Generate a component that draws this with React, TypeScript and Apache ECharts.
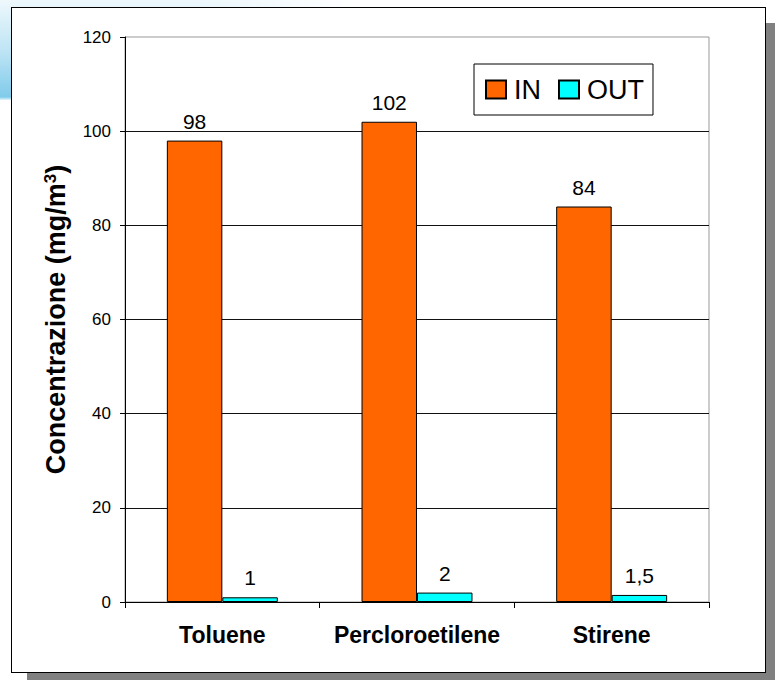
import React, { useEffect, useRef } from "react";
import * as echarts from "echarts";

const categories = ["Toluene", "Percloroetilene", "Stirene"];
const seriesNames = ["IN", "OUT"];
const inValues = [98, 102, 84];
const outValues = [1, 2, 1.5];
const yMin = 0;
const yMax = 120;
const yInterval = 20;

const FONT = "'Liberation Sans', Arial, Helvetica, sans-serif";

export default function App() {
  const ref = useRef<HTMLDivElement>(null);

  useEffect(() => {
    if (!ref.current) return;
    const chart = echarts.init(ref.current, undefined, { renderer: "svg" });
    const labelFmt = (p: any) => String(p.value).replace(".", ",");
    chart.setOption({
      animation: false,
      backgroundColor: "transparent",
      textStyle: { fontFamily: FONT, color: "#000" },
      grid: {
        left: 125,
        right: 66,
        top: 37,
        bottom: 78,
        show: true,
        borderColor: "#999",
        borderWidth: 1,
        backgroundColor: "transparent",
      },
      legend: {
        data: seriesNames,
        left: 474,
        top: 64,
        orient: "horizontal",
        backgroundColor: "#fff",
        borderColor: "#000",
        borderWidth: 1,
        borderRadius: 0,
        padding: [12, 9, 12, 11],
        itemWidth: 20,
        itemHeight: 18,
        itemGap: 17,
        icon: "rect",
        textStyle: {
          fontFamily: FONT,
          fontSize: 27,
          color: "#000",
          lineHeight: 27,
          padding: [0, 0, 0, 3],
        },
      },
      xAxis: {
        type: "category",
        data: categories,
        axisLine: { lineStyle: { color: "#000", width: 1 } },
        axisTick: { show: true, length: 6, lineStyle: { color: "#000" } },
        axisLabel: {
          interval: 0,
          hideOverlap: false,
          fontFamily: FONT,
          fontSize: 23,
          fontWeight: "bold",
          color: "#000",
          margin: 21,
        },
      },
      yAxis: {
        type: "value",
        min: yMin,
        max: yMax,
        interval: yInterval,
        name: "Concentrazione (mg/m{sup|3})",
        nameLocation: "middle",
        nameRotate: 90,
        nameGap: 56,
        nameTextStyle: {
          fontFamily: FONT,
          fontSize: 27,
          fontWeight: "bold",
          color: "#000",
          rich: {
            sup: {
              fontFamily: FONT,
              fontSize: 17,
              fontWeight: "bold",
              color: "#000",
              verticalAlign: "top",
              lineHeight: 17,
            },
          },
        },
        axisLine: { show: true, lineStyle: { color: "#000", width: 1 } },
        axisTick: { show: true, length: 5, lineStyle: { color: "#000" } },
        axisLabel: {
          fontFamily: FONT,
          fontSize: 17,
          color: "#000",
          margin: 14,
        },
        splitLine: {
          show: true,
          showMaxLine: false,
          lineStyle: { color: "#111", width: 1 },
        },
      },
      series: [
        {
          name: seriesNames[0],
          type: "bar",
          data: inValues,
          barWidth: "28.5%",
          barGap: "0%",
          itemStyle: { color: "#FF6600", borderColor: "#000", borderWidth: 1 },
          label: {
            show: true,
            position: "top",
            distance: 9,
            fontFamily: FONT,
            fontSize: 21,
            color: "#000",
            formatter: labelFmt,
          },
        },
        {
          name: seriesNames[1],
          type: "bar",
          data: outValues,
          barWidth: "28.5%",
          barGap: "0%",
          itemStyle: { color: "#00FFFF", borderColor: "#000", borderWidth: 1 },
          label: {
            show: true,
            position: "top",
            distance: 9,
            fontFamily: FONT,
            fontSize: 21,
            color: "#000",
            formatter: labelFmt,
          },
        },
      ],
    });
    return () => chart.dispose();
  }, []);

  return (
    <div
      style={{
        position: "absolute",
        left: 0,
        top: 0,
        width: 775,
        height: 680,
        overflow: "hidden",
        background: "#fff",
      }}
    >
      <div
        style={{
          position: "absolute",
          left: 0,
          top: 0,
          width: 360,
          height: 100,
          background:
            "linear-gradient(to right, rgba(255,255,255,0) 0%, rgba(255,255,255,0) 55%, #fff 100%), linear-gradient(to bottom, #eef8fc 0%, #bfe5f5 50%, #80cbea 97%, #e6f5fb 100%)",
        }}
      />
      <div
        style={{
          position: "absolute",
          left: 27,
          top: 23,
          width: 760,
          height: 670,
          background: "#808080",
        }}
      />
      <div
        style={{
          position: "absolute",
          left: 11,
          top: 7,
          width: 755,
          height: 666,
          boxSizing: "border-box",
          background: "#fff",
          border: "1.5px solid #000",
        }}
      />
      <div
        ref={ref}
        style={{ position: "absolute", left: 0, top: 0, width: 775, height: 680 }}
      />
    </div>
  );
}
